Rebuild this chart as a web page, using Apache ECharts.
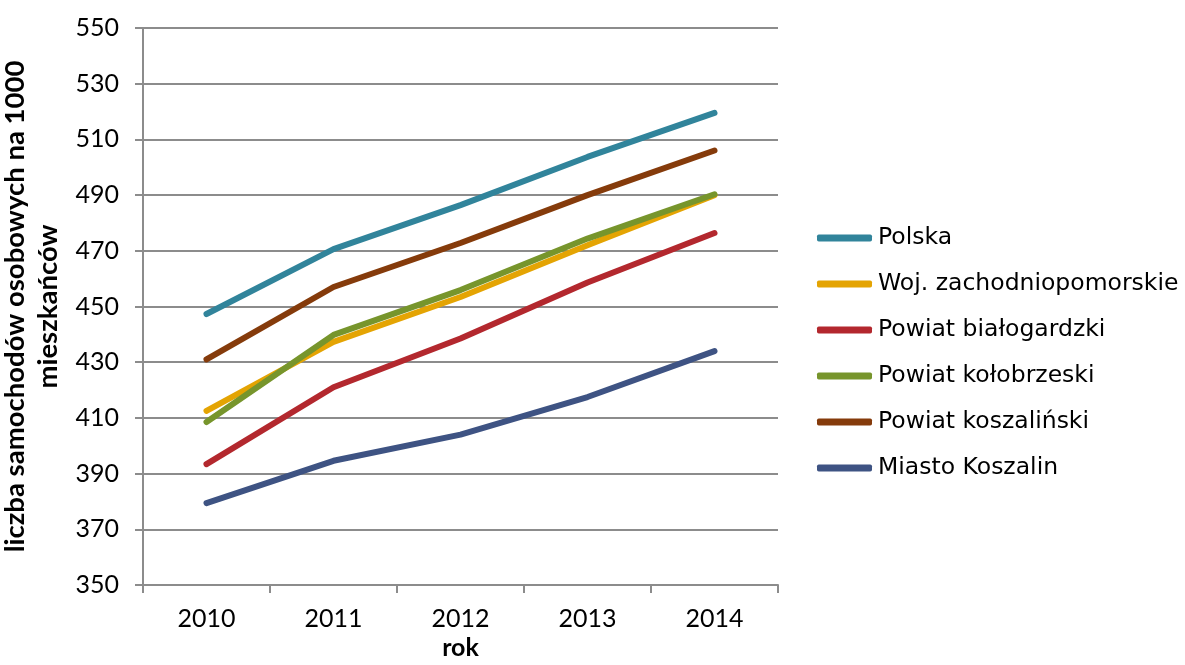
<!DOCTYPE html>
<html><head><meta charset="utf-8">
<script src="https://cdn.jsdelivr.net/npm/echarts@6/dist/echarts.min.js"></script>
<style>html,body{margin:0;padding:0;background:#fff}#c{width:1185px;height:665px}</style>
</head><body><div id="c"></div>
<script>
const categories = ['2010','2011','2012','2013','2014'];
const seriesNames = ['Polska','Woj. zachodniopomorskie','Powiat białogardzki','Powiat kołobrzeski','Powiat koszaliński','Miasto Koszalin'];
const polska = [447.3, 470.6, 486.4, 503.7, 519.5];
const woj = [412.5, 437.3, 453.4, 472.0, 490.0];
const bialogardzki = [393.4, 421.0, 438.5, 458.6, 476.4];
const kolobrzeski = [408.5, 439.8, 455.9, 474.4, 490.3];
const koszalinski = [431.0, 457.0, 472.8, 490.0, 506.0];
const miasto = [379.4, 394.6, 404.0, 417.5, 434.0];
const colors = ['#31849b','#e4a403','#b3282e','#77952c','#853b0b','#3e5383'];
const values = [polska, woj, bialogardzki, kolobrzeski, koszalinski, miasto];

const chart = echarts.init(document.getElementById('c'), null, {renderer:'canvas'});
const gray = '#8c8c8c';
chart.setOption({
  animation:false,
  backgroundColor:'#fff',
  grid:{left:143, right:407, top:28, bottom:80, containLabel:false, outerBoundsMode:'none'},
  legend:{
    orient:'vertical', left:812, top:221,
    itemWidth:55, itemHeight:7, itemGap:22,
    icon:'roundRect',
    textStyle:{fontFamily:'DejaVu Sans', fontSize:23.5, lineHeight:24, color:'#000', padding:[0,0,0,1]},
    data:seriesNames
  },
  xAxis:{
    type:'category', data:categories, boundaryGap:true,
    name:'rok', nameLocation:'middle', nameGap:50,
    nameTextStyle:{fontFamily:'Lato', fontWeight:'bold', fontSize:25, color:'#000'},
    axisLine:{lineStyle:{color:gray, width:2}},
    axisTick:{show:true, length:8, lineStyle:{color:gray, width:2}},
    axisLabel:{fontFamily:'Lato', fontSize:25, color:'#000', margin:21}
  },
  yAxis:{
    type:'value', min:350, max:550, interval:20,
    name:'liczba samochodów osobowych na 1000\nmieszkańców',
    nameLocation:'middle', nameRotate:90, nameGap:71,
    nameTextStyle:{fontFamily:'Lato', fontWeight:'bold', fontSize:27.5, color:'#000', lineHeight:33, align:'center'},
    axisLine:{show:true, lineStyle:{color:gray, width:2}},
    axisTick:{show:true, length:8, lineStyle:{color:gray, width:2}},
    splitLine:{lineStyle:{color:gray, width:2}},
    axisLabel:{fontFamily:'Lato', fontSize:25, color:'#000', margin:24}
  },
  series: seriesNames.map((n,i)=>({
    name:n, type:'line', data:values[i], symbol:'none',
    color:colors[i],
    lineStyle:{width:6, cap:'round', join:'round', color:colors[i]}
  }))
});
</script></body></html>
